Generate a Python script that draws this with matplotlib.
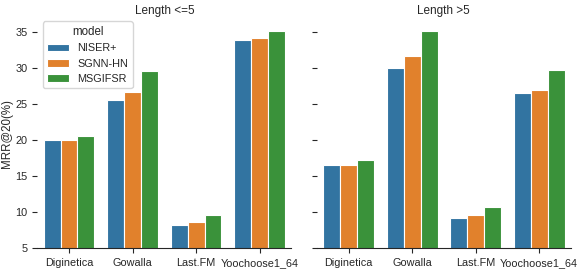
import pandas as pd
import numpy as np
import matplotlib
matplotlib.use("Agg")
import matplotlib.pyplot as plt
import seaborn as sns

datasets = ["Diginetica", "Gowalla", "Last.FM", "Yoochoose1_64"]
models = ["NISER+", "SGNN-HN", "MSGIFSR"]

# MRR@20 for short sessions (length <= 5)
short_niser = [20.0, 25.6, 8.2, 33.8]
short_sgnn = [20.0, 26.7, 8.6, 34.1]
short_msgifsr = [20.5, 29.6, 9.6, 35.1]

# MRR@20 for long sessions (length > 5)
long_niser = [16.6, 30.0, 9.2, 26.5]
long_sgnn = [16.6, 31.7, 9.6, 26.9]
long_msgifsr = [17.2, 35.1, 10.8, 29.7]


def make_frame(a, b, c):
    rows = []
    for vals, m in zip([a, b, c], models):
        for d, v in zip(datasets, vals):
            rows.append({"dataset": d, "model": m, "MRR@20(%)": v})
    return pd.DataFrame(rows)


df_short = make_frame(short_niser, short_sgnn, short_msgifsr)
df_long = make_frame(long_niser, long_sgnn, long_msgifsr)

sns.set_style("ticks")
plt.rcParams['font.family'] = ['Liberation Sans', 'DejaVu Sans']

fig, axes = plt.subplots(1, 2, figsize=(5.82, 2.7), dpi=100, sharey=True)
fig.subplots_adjust(left=0.064, right=0.981, bottom=0.080, top=0.932, wspace=0.1)

for ax, df, title in zip(axes, [df_short, df_long], ["Length <=5", "Length >5"]):
    sns.barplot(data=df, x="dataset", y="MRR@20(%)", hue="model", ax=ax,
                saturation=0.75, edgecolor="white", linewidth=0.8)
    ax.set_title(title, fontsize=8.5, pad=3)
    ax.set_xlabel("")
    ax.tick_params(labelsize=7.8)
    sns.despine(ax=ax, left=True)

axes[0].set_ylim(5, 36.86)
axes[0].set_yticks([5, 10, 15, 20, 25, 30, 35])
axes[0].set_ylabel("MRR@20(%)", fontsize=8.3, labelpad=1.5)
axes[1].set_ylabel("")
axes[1].get_legend().remove()
leg = axes[0].legend(title="model", loc="upper left", fontsize=7.8,
                     title_fontsize=8.3, bbox_to_anchor=(0.0, 1.01))

fig.savefig("out.png", dpi=100)
